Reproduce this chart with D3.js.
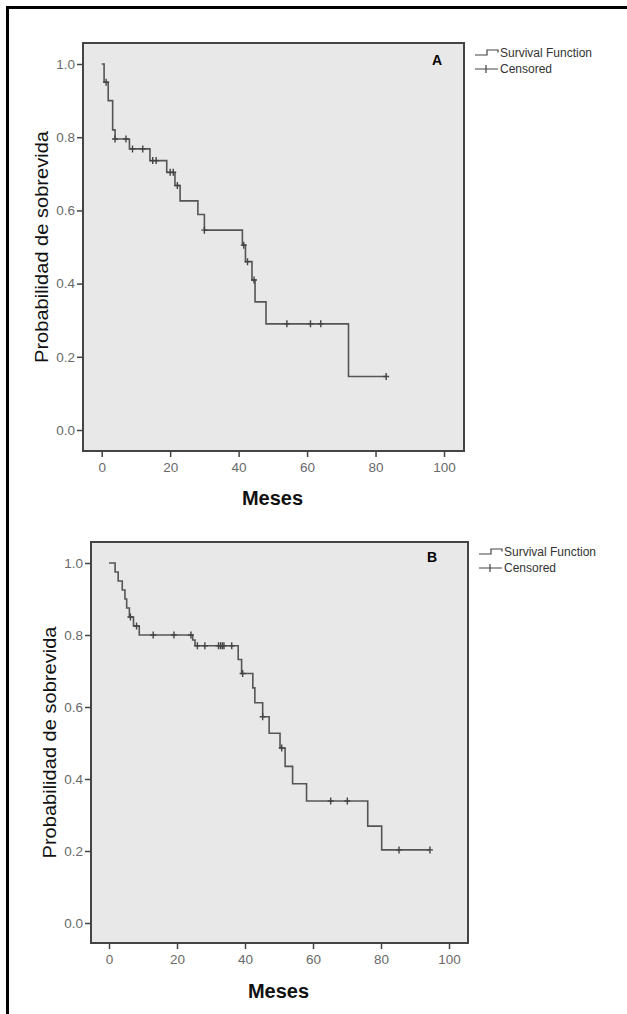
<!DOCTYPE html>
<meta charset="utf-8">
<head>
<script src="https://cdn.jsdelivr.net/npm/d3@7"></script>
<style>
body { margin:0; background:#fff; }
svg { display:block; font-family:"Liberation Sans", Arial, sans-serif; }
.tick text { fill:#6a6a6a; font-size:13.5px; }
.tick line { stroke:#444; stroke-width:1.5; }
</style>
</head>
<body>
<div id="chart"></div>
<script>

// panel A: event times (months) and survival after each event
var timeA = [0.7, 1.9, 3.2, 3.9, 8.1, 14.1, 19.0, 21.4, 22.9, 28.1, 30.0, 41.1, 42.0, 43.9, 44.8, 48.0, 72.1];
var survA = [0.95, 0.90, 0.82, 0.795, 0.768, 0.736, 0.704, 0.668, 0.626, 0.589, 0.546, 0.505, 0.46, 0.41, 0.35, 0.29, 0.146];
var censA = [1.3, 3.9, 7.1, 9.0, 12.0, 14.9, 15.9, 20.0, 20.9, 22.1, 30.0, 41.5, 42.6, 44.5, 54.1, 61.0, 64.0, 83.1];

// panel B
var timeB = [1.8, 2.7, 3.9, 4.7, 5.2, 6.0, 7.2, 8.9, 24.6, 25.3, 38.0, 39.0, 42.3, 42.9, 45.2, 47.1, 50.3, 51.8, 54.0, 58.1, 76.1, 80.2];
var survB = [0.975, 0.95, 0.925, 0.90, 0.875, 0.85, 0.825, 0.80, 0.786, 0.77, 0.732, 0.693, 0.653, 0.612, 0.573, 0.527, 0.486, 0.435, 0.387, 0.339, 0.269, 0.203];
var censB = [6.3, 8.1, 13.0, 19.1, 24.1, 26.0, 28.2, 32.2, 32.8, 33.3, 33.8, 36.1, 39.3, 45.2, 50.8, 65.2, 70.1, 85.3, 94.4];

var xTicks = [0, 20, 40, 60, 80, 100];
var yTicks = [0, 0.2, 0.4, 0.6, 0.8, 1.0];
var legendLabels = ['Survival Function', 'Censored'];

var svg = d3.select('#chart').append('svg')
    .attr('width', 627).attr('height', 1014);

// outer frame (only top and left edges are visible in the figure)
svg.append('rect')
    .attr('x', 7.5).attr('y', 7.5).attr('width', 640).attr('height', 1030)
    .attr('fill', 'none').attr('stroke', '#000').attr('stroke-width', 3);

var panels = [
  {letter:'A', time:timeA, surv:survA, cens:censA,
   box:[83, 43, 464, 451], xr:[101.7, 444], yr:[430, 64],
   letterPos:[437, 65], legend:[475, 53], ylabX:42, xlabY:505},
  {letter:'B', time:timeB, surv:survB, cens:censB,
   box:[91, 542, 468, 943], xr:[109, 449], yr:[923, 563],
   letterPos:[432, 562], legend:[479, 552], ylabX:50, xlabY:998}
];

panels.forEach(function(p){
  var g = svg.append('g');
  var b = p.box;
  var x = d3.scaleLinear().domain([0, 100]).range(p.xr);
  var y = d3.scaleLinear().domain([0, 1]).range(p.yr);

  g.append('rect')
    .attr('x', b[0]).attr('y', b[1]).attr('width', b[2]-b[0]).attr('height', b[3]-b[1])
    .attr('fill', '#e8e8e8').attr('stroke', '#444').attr('stroke-width', 2);

  var yAxis = g.append('g').attr('transform', 'translate(' + b[0] + ',0)')
    .call(d3.axisLeft(y).tickValues(yTicks).tickFormat(d3.format('.1f')).tickSize(6).tickPadding(2));
  yAxis.select('.domain').remove();

  var xAxis = g.append('g').attr('transform', 'translate(0,' + b[3] + ')')
    .call(d3.axisBottom(x).tickValues(xTicks).tickSize(6).tickPadding(5));
  xAxis.select('.domain').remove();

  // step function
  var pts = [{t:0, s:1}];
  p.time.forEach(function(t, i){ pts.push({t:t, s:p.surv[i]}); });
  var tEnd = d3.max(p.cens.concat(p.time));
  pts.push({t:tEnd, s:p.surv[p.surv.length-1]});

  g.append('path')
    .datum(pts)
    .attr('fill', 'none').attr('stroke', '#555').attr('stroke-width', 1.6)
    .attr('d', d3.line().x(function(d){ return x(d.t); }).y(function(d){ return y(d.s); }).curve(d3.curveStepAfter));

  function sAt(t){
    var s = 1;
    p.time.forEach(function(tt, i){ if (tt <= t) s = p.surv[i]; });
    return s;
  }

  g.selectAll('.cens').data(p.cens).enter().append('path')
    .attr('class', 'cens')
    .attr('fill', 'none').attr('stroke', '#444').attr('stroke-width', 1.4)
    .attr('d', function(d){
      var cx = x(d), cy = y(sAt(d));
      return 'M' + (cx-3) + ',' + cy + 'H' + (cx+3) + 'M' + cx + ',' + (cy-3.5) + 'V' + (cy+3.5);
    });

  g.append('text')
    .attr('x', p.letterPos[0]).attr('y', p.letterPos[1])
    .attr('text-anchor', 'middle').attr('font-weight', 'bold').attr('font-size', 14)
    .text(p.letter);

  g.append('text')
    .attr('transform', 'translate(' + p.ylabX + ',' + ((b[1]+b[3])/2) + ') rotate(-90)')
    .attr('text-anchor', 'middle').attr('dy', '0.35em')
    .attr('font-size', 18.5).attr('fill', '#111')
    .attr('textLength', 232).attr('lengthAdjust', 'spacingAndGlyphs')
    .text('Probabilidad de sobrevida');

  g.append('text')
    .attr('x', (b[0]+b[2])/2 - 1).attr('y', p.xlabY)
    .attr('text-anchor', 'middle').attr('font-weight', 'bold').attr('font-size', 20).attr('fill', '#111')
    .text('Meses');

  // legend
  var lx = p.legend[0], ly = p.legend[1];
  g.append('path')
    .attr('fill', 'none').attr('stroke', '#444').attr('stroke-width', 1.2)
    .attr('d', 'M' + lx + ',' + (ly+2) + 'H' + (lx+12) + 'V' + (ly-3) + 'H' + (lx+23) + 'V' + (ly-0.5));
  g.append('path')
    .attr('fill', 'none').attr('stroke', '#444').attr('stroke-width', 1.2)
    .attr('d', 'M' + lx + ',' + (ly+16) + 'H' + (lx+23) + 'M' + (lx+11) + ',' + (ly+12) + 'V' + (ly+20));
  g.selectAll('.leg').data(legendLabels).enter().append('text')
    .attr('x', lx + 25).attr('y', function(d, i){ return ly + i*16; })
    .attr('dy', '0.35em').attr('font-size', 12).attr('fill', '#333')
    .text(function(d){ return d; });
});

</script>
</body>
